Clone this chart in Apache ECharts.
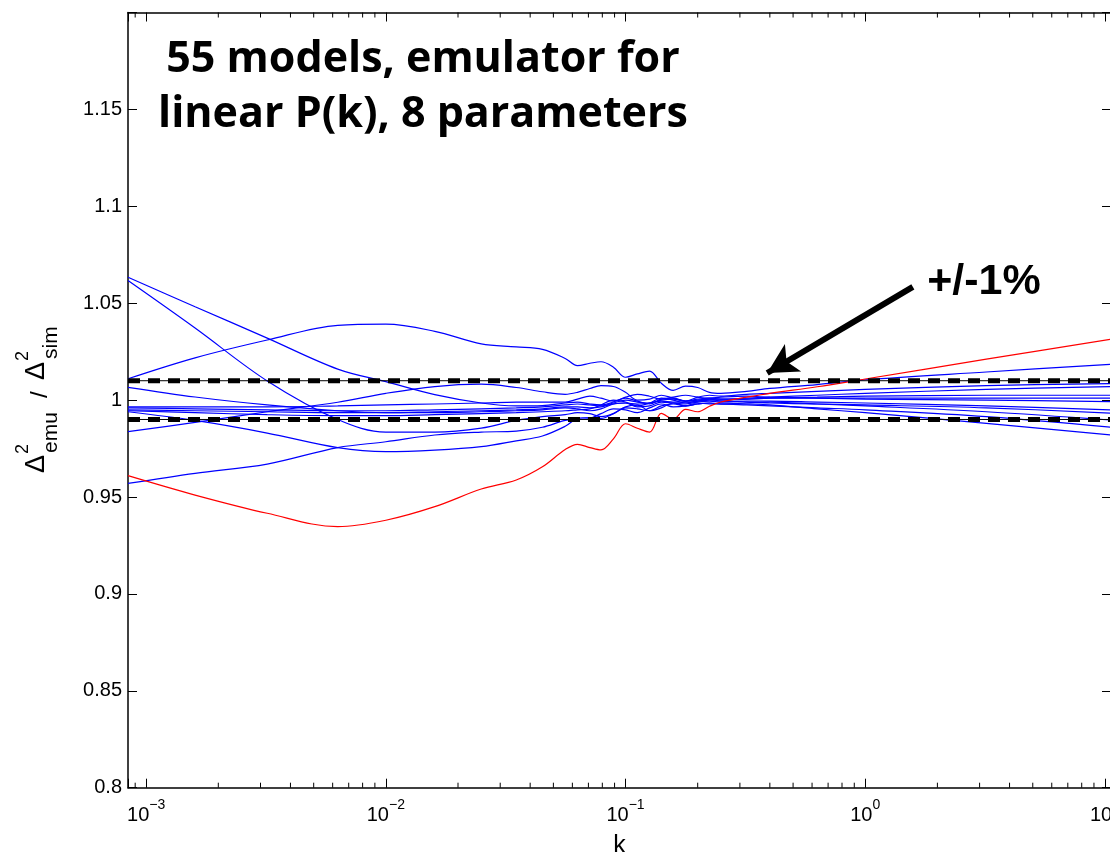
<!DOCTYPE html>
<html>
<head>
<meta charset="utf-8">
<script src="https://cdn.jsdelivr.net/npm/echarts@6/dist/echarts.min.js"></script>
<style>
  html, body { margin: 0; padding: 0; background: #ffffff; }
  #chart { width: 1110px; height: 852px; }
</style>
</head>
<body>
<div id="chart"></div>
<script>
// Wavenumber grid shared by every emulator-test curve (h/Mpc)
const kValues = [0.00084, 0.0016, 0.0032, 0.0063, 0.01, 0.016, 0.025, 0.035, 0.045, 0.056,
  0.063, 0.071, 0.079, 0.089, 0.1, 0.112, 0.126, 0.141, 0.158, 0.178,
  0.2, 0.224, 0.25, 0.32, 0.4, 0.63, 1.0, 3.2, 10.6];

// Emulated / simulated power spectrum ratio for the test models (blue)
const ratioA = [1.0634, 1.0482, 1.032, 1.016, 1.0095, 1.0028, 0.9985, 0.997, 0.9972, 0.9985,
  0.999, 0.998, 0.9975, 0.999, 1.001, 0.9995, 0.998, 1.0005, 1.001, 0.9995,
  1.0005, 1.001, 1.0005, 1.001, 1.0015, 1.0025, 1.0035, 1.0055, 1.007];
const ratioB = [1.0617, 1.0372, 1.0099, 0.990, 0.9835, 0.9835, 0.9855, 0.9895, 0.9915, 0.9925,
  0.9935, 0.993, 0.9915, 0.993, 0.9965, 0.9975, 0.9945, 0.996, 0.9985, 0.997,
  0.998, 0.9985, 0.998, 0.9985, 0.999, 0.998, 0.997, 0.994, 0.9897];
const ratioC = [1.011, 1.0218, 1.031, 1.0386, 1.0392, 1.0355, 1.029, 1.0275, 1.0262, 1.0215,
  1.0178, 1.019, 1.0198, 1.017, 1.0118, 1.0135, 1.015, 1.0087, 1.005, 1.0072,
  1.0065, 1.004, 1.0035, 1.0045, 1.006, 1.008, 1.0105, 1.0145, 1.0185];
const ratioD = [1.0066, 1.0016, 0.9975, 0.9945, 0.9935, 0.9935, 0.994, 0.9945, 0.995, 0.996,
  0.9955, 0.9945, 0.9955, 0.998, 0.9985, 0.9965, 0.997, 0.999, 0.9985, 0.998,
  0.999, 0.9995, 0.999, 0.9995, 0.9995, 0.999, 0.9985, 0.997, 0.9949];
const ratioE = [0.996, 0.9955, 0.995, 0.9945, 0.9945, 0.995, 0.9955, 0.996, 0.9965, 0.9975,
  0.998, 0.9975, 0.997, 0.9985, 1.0, 0.999, 0.9985, 1.0, 1.0005, 0.9995,
  1.0, 1.0005, 1.0005, 1.0005, 1.001, 1.001, 1.001, 1.001, 1.001];
const ratioF = [0.995, 0.9945, 0.994, 0.9935, 0.9935, 0.994, 0.9945, 0.995, 0.9955, 0.9965,
  0.9965, 0.996, 0.9965, 0.998, 0.9985, 0.998, 0.9985, 0.9995, 0.999, 0.999,
  0.9995, 1.0, 1.0, 1.0005, 1.001, 1.0015, 1.002, 1.0025, 1.0025];
const ratioG = [0.994, 0.9895, 0.983, 0.9755, 0.9734, 0.9742, 0.976, 0.979, 0.9815, 0.9865,
  0.9905, 0.991, 0.9905, 0.993, 0.996, 0.9955, 0.9945, 0.997, 0.998, 0.997,
  0.998, 0.9985, 0.998, 0.998, 0.9975, 0.9955, 0.9935, 0.988, 0.982];
const ratioH = [0.9837, 0.9885, 0.994, 0.9989, 1.0035, 1.007, 1.0082, 1.0065, 1.0043, 1.003,
  1.004, 1.006, 1.0075, 1.007, 1.004, 1.0, 1.0005, 1.0025, 1.001, 0.9995,
  1.0015, 1.0025, 1.002, 1.003, 1.0035, 1.0045, 1.0055, 1.0075, 1.0085];
const ratioI = [0.957, 0.9622, 0.967, 0.9755, 0.9785, 0.982, 0.9835, 0.984, 0.986, 0.9895,
  0.99, 0.9905, 0.993, 0.9955, 0.995, 0.9935, 0.996, 0.998, 0.9965, 0.997,
  0.9985, 0.998, 0.998, 0.9975, 0.997, 0.996, 0.995, 0.9915, 0.986];
const ratioJ = [0.9965, 0.9965, 0.9965, 0.997, 0.9975, 0.998, 0.9985, 0.999, 0.999, 0.999,
  1.0005, 1.002, 1.001, 0.9995, 1.0015, 1.003, 1.002, 1.0005, 1.0015, 1.0025,
  1.0015, 1.001, 1.0015, 1.002, 1.0015, 1.001, 1.0005, 1.0, 0.9992];
const ratioK = [0.9945, 0.9935, 0.9925, 0.992, 0.992, 0.9925, 0.993, 0.9935, 0.994, 0.9945,
  0.995, 0.9955, 0.9975, 1.0, 0.999, 0.997, 0.9985, 1.001, 1.0, 0.9985,
  0.9995, 1.0005, 0.9995, 0.999, 0.9985, 0.998, 0.9975, 0.996, 0.9933];

// Worst-case model (red)
const ratioRed = [0.961, 0.951, 0.9416, 0.9347, 0.938, 0.945, 0.9541, 0.9588, 0.9656, 0.9745,
  0.9772, 0.9755, 0.9743, 0.980, 0.9878, 0.9855, 0.9835, 0.9932, 0.9902, 0.9952,
  0.994, 0.9968, 0.999, 1.0015, 1.0035, 1.0069, 1.0109, 1.0211, 1.0314];

// +/-1% accuracy band
const bandUpper = 1.01;
const bandLower = 0.99;

// Axis ranges and ticks
const kMin = 0.00084;
const kMax = 10.6;
const yMin = 0.8;
const yMax = 1.2;
const yStep = 0.05;
const minorTickK = [];
for (let e = -4; e <= 0; e++) {
  for (let m = 2; m <= 9; m++) {
    const k = m * Math.pow(10, e);
    if (k > kMin && k < kMax) minorTickK.push(k);
  }
}

// Annotation arrow (data coordinates: k, ratio)
const arrowTail = [1.58, 1.0584];
const arrowTip = [0.39, 1.014];

const blueCurves = [ratioA, ratioB, ratioC, ratioD, ratioE, ratioF, ratioG, ratioH, ratioI, ratioJ, ratioK];
const toPairs = vals => kValues.map((k, i) => [k, vals[i]]);

const axisFont = 'Liberation Sans, Arial, Helvetica, sans-serif';

const chart = echarts.init(document.getElementById('chart'), null, { renderer: 'canvas' });

const curveSeries = blueCurves.map(vals => ({
  type: 'line',
  data: toPairs(vals),
  symbol: 'none',
  smooth: 0.35,
  silent: true,
  lineStyle: { color: '#0000ff', width: 1.2 },
  z: 2
}));

const bandSeries = (value, dashed, withArrow) => {
  const s = {
    type: 'line',
    data: [[kMin, value], [kMax, value]],
    symbol: 'none',
    silent: true,
    lineStyle: dashed
      ? { color: '#000000', width: 5, type: [12, 8] }
      : { color: '#000000', width: 1 },
    z: dashed ? 6 : 5
  };
  if (withArrow) {
    s.markLine = {
      silent: true,
      symbol: ['none', 'arrow'],
      symbolSize: [24, 30],
      label: { show: false },
      lineStyle: { color: '#000000', width: 6, type: 'solid' },
      data: [[{ coord: arrowTail }, { coord: arrowTip }]],
      z: 7
    };
  }
  return s;
};

const option = {
  animation: false,
  backgroundColor: '#ffffff',
  grid: { left: 128, top: 12.5, width: 983, height: 775.2, containLabel: false, outerBoundsMode: 'none' },
  xAxis: [
    {
      type: 'log',
      logBase: 10,
      min: kMin,
      max: kMax,
      position: 'bottom',
      axisLine: { show: true, onZero: false, lineStyle: { color: '#000000', width: 1.5 } },
      axisTick: { show: true, inside: true, length: 9, lineStyle: { color: '#000000', width: 1 } },
      minorTick: { show: false },
      splitLine: { show: false },
      axisLabel: {
        margin: 10,
        color: '#000000',
        fontFamily: axisFont,
        formatter: v => {
          const e = Math.log10(v);
          const r = Math.round(e);
          if (Math.abs(e - r) > 1e-6) return '';
          return '{b|10}{s|' + (r < 0 ? '\u2212' : '') + Math.abs(r) + '}';
        },
        rich: {
          b: { fontSize: 20, fontFamily: axisFont, color: '#000', lineHeight: 28, verticalAlign: 'bottom' },
          s: { fontSize: 14, fontFamily: axisFont, color: '#000', lineHeight: 28, verticalAlign: 'top' }
        }
      },
      name: 'k',
      nameLocation: 'middle',
      nameGap: 46,
      nameTextStyle: { fontSize: 25, fontFamily: axisFont, color: '#000000' }
    },
    {
      type: 'log',
      logBase: 10,
      min: kMin,
      max: kMax,
      position: 'top',
      axisLine: { show: true, onZero: false, lineStyle: { color: '#000000', width: 1.5 } },
      axisTick: { show: true, inside: true, length: 9, lineStyle: { color: '#000000', width: 1 } },
      minorTick: { show: false },
      splitLine: { show: false },
      axisLabel: { show: false }
    }
  ],
  yAxis: [
    {
      type: 'value',
      min: yMin,
      max: yMax,
      interval: yStep,
      position: 'left',
      axisLine: { show: true, onZero: false, lineStyle: { color: '#000000', width: 1.5 } },
      axisTick: { show: true, inside: true, length: 9, lineStyle: { color: '#000000', width: 1 } },
      splitLine: { show: false },
      axisLabel: {
        margin: 6,
        color: '#000000',
        fontSize: 20,
        fontFamily: axisFont,
        formatter: v => (v > yMax - 1e-6 ? '' : String(parseFloat(v.toFixed(2))))
      }
    },
    {
      type: 'value',
      min: yMin,
      max: yMax,
      interval: yStep,
      position: 'right',
      axisLine: { show: true, onZero: false, lineStyle: { color: '#000000', width: 1.5 } },
      axisTick: { show: true, inside: true, length: 9, lineStyle: { color: '#000000', width: 1 } },
      splitLine: { show: false },
      axisLabel: { show: false }
    }
  ],
  series: [
    ...curveSeries,
    {
      type: 'line',
      data: toPairs(ratioRed),
      symbol: 'none',
      smooth: 0.35,
      silent: true,
      lineStyle: { color: '#ff0000', width: 1.2 },
      z: 3
    },
    bandSeries(bandUpper, false, false),
    bandSeries(bandLower, false, false),
    bandSeries(bandUpper, true, true),
    bandSeries(bandLower, true, false),
    {
      // log-spaced minor ticks on the bottom and top axes
      type: 'custom',
      data: minorTickK.map(k => [k, yMin]),
      encode: { x: 0, y: 1 },
      silent: true,
      clip: false,
      z: 8,
      renderItem: (params, api) => {
        const k = api.value(0);
        const b = api.coord([k, yMin]);
        const t = api.coord([k, yMax]);
        return {
          type: 'group',
          children: [
            { type: 'line', shape: { x1: b[0], y1: b[1], x2: b[0], y2: b[1] - 5 }, style: { stroke: '#000', lineWidth: 1 } },
            { type: 'line', shape: { x1: t[0], y1: t[1], x2: t[0], y2: t[1] + 5 }, style: { stroke: '#000', lineWidth: 1 } }
          ]
        };
      }
    }
  ],
  graphic: [
    {
      type: 'text',
      x: 423,
      y: 32,
      style: {
        text: '55 models, emulator for\nlinear P(k), 8 parameters',
        fontFamily: '"Open Sans", Lato, sans-serif',
        fontWeight: 'bold',
        fontSize: 43,
        lineHeight: 55,
        align: 'center',
        verticalAlign: 'top',
        fill: '#000000'
      },
      z: 10
    },
    {
      type: 'text',
      x: 984,
      y: 282,
      style: {
        text: '+/-1%',
        fontFamily: axisFont,
        fontWeight: 'bold',
        fontSize: 43,
        align: 'center',
        verticalAlign: 'middle',
        fill: '#000000'
      },
      z: 10
    },
    {
      // y-axis title, rotated to read bottom-to-top
      type: 'group',
      x: 37,
      y: 473,
      rotation: Math.PI / 2,
      children: [
        { type: 'text', x: 0, y: 0, style: { text: '\u0394', fontFamily: axisFont, fontSize: 27, verticalAlign: 'middle', fill: '#000' } },
        { type: 'text', x: 19, y: -14, style: { text: '2', fontFamily: axisFont, fontSize: 18, verticalAlign: 'middle', fill: '#000' } },
        { type: 'text', x: 20, y: 14, style: { text: 'emu', fontFamily: axisFont, fontSize: 21, verticalAlign: 'middle', fill: '#000' } },
        { type: 'text', x: 75, y: 3, style: { text: '/', fontFamily: axisFont, fontSize: 24, verticalAlign: 'middle', fill: '#000' } },
        { type: 'text', x: 93, y: 0, style: { text: '\u0394', fontFamily: axisFont, fontSize: 27, verticalAlign: 'middle', fill: '#000' } },
        { type: 'text', x: 112, y: -14, style: { text: '2', fontFamily: axisFont, fontSize: 18, verticalAlign: 'middle', fill: '#000' } },
        { type: 'text', x: 114, y: 14, style: { text: 'sim', fontFamily: axisFont, fontSize: 21, verticalAlign: 'middle', fill: '#000' } }
      ]
    }
  ]
};

chart.setOption(option);
</script>
</body>
</html>
